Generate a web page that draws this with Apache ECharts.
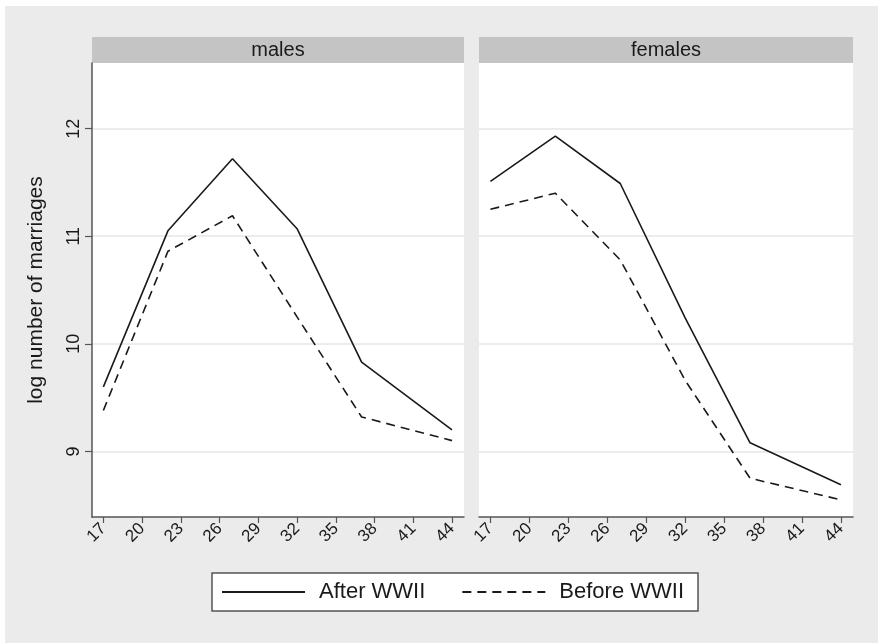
<!DOCTYPE html>
<html>
<head>
<meta charset="utf-8">
<script src="https://cdn.jsdelivr.net/npm/echarts@6/dist/echarts.min.js"></script>
<style>
  html, body { margin: 0; padding: 0; background: #fff; }
  #chart { width: 878px; height: 643px; }
</style>
</head>
<body>
<div id="chart"></div>
<script>
// age at marriage
const ages = [17, 22, 27, 32, 37, 44]
// log number of marriages
const maleAfter = [9.60, 11.05, 11.72, 11.07, 9.83, 9.20]
const maleBefore = [9.38, 10.86, 11.19, 10.25, 9.32, 9.10]
const femaleAfter = [11.51, 11.93, 11.49, 10.24, 9.08, 8.69]
const femaleBefore = [11.25, 11.40, 10.78, 9.66, 8.75, 8.55]
const xTicks = [17, 20, 23, 26, 29, 32, 35, 38, 41, 44]
const yTicks = [9, 10, 11, 12]
const panels = ['males', 'females']

const font = 'Liberation Sans, Arial, sans-serif'
const pairs = (ys) => ages.map((a, i) => [a, ys[i]])

function xAxisFor(idx) {
  return {
    type: 'value', gridIndex: idx, min: 16.12, max: 44.93,
    axisLine: { show: true, onZero: false, lineStyle: { color: '#555', width: 1.5 } },
    axisTick: { show: true, length: 6, customValues: xTicks, lineStyle: { color: '#555', width: 1.2 } },
    axisLabel: { customValues: xTicks, rotate: 45, margin: 9, fontSize: 17, color: '#1a1a1a', fontFamily: font },
    splitLine: { show: false }
  }
}
function yAxisFor(idx, showAxis) {
  return {
    type: 'value', gridIndex: idx, min: 8.39, max: 12.61,
    axisLine: { show: showAxis, lineStyle: { color: '#555', width: 1.5 } },
    axisTick: { show: showAxis, length: 7, customValues: yTicks, lineStyle: { color: '#555', width: 1.2 } },
    axisLabel: { show: showAxis, customValues: yTicks, rotate: 90, margin: 9, fontSize: 18, color: '#1a1a1a', fontFamily: font },
    splitLine: { show: true, lineStyle: { color: '#e6e6e6', width: 1.5 } }
  }
}
function lineSeries(name, idx, ys, dashed) {
  return {
    name: name, type: 'line', xAxisIndex: idx, yAxisIndex: idx,
    data: pairs(ys), symbol: 'none', showSymbol: false,
    lineStyle: { color: '#1a1a1a', width: 1.6, type: dashed ? [9, 6] : 'solid' },
    itemStyle: { color: '#1a1a1a' }
  }
}

let chart = echarts.init(document.getElementById('chart'))
let option = {
  backgroundColor: '#fff',
  animation: false,
  grid: [
    { left: 92, top: 63, width: 372, height: 454, show: true, backgroundColor: '#fff', borderWidth: 0 },
    { left: 479, top: 63, width: 374, height: 454, show: true, backgroundColor: '#fff', borderWidth: 0 }
  ],
  xAxis: [xAxisFor(0), xAxisFor(1)],
  yAxis: [
    Object.assign(yAxisFor(0, true), {
      name: 'log number of marriages', nameLocation: 'middle', nameGap: 45,
      nameTextStyle: { fontSize: 21, color: '#1a1a1a', fontFamily: font }
    }),
    yAxisFor(1, false)
  ],
  legend: {
    data: ['After WWII', 'Before WWII'],
    left: 212, top: 573,
    padding: [8, 14, 8, 9],
    backgroundColor: '#fff', borderColor: '#555', borderWidth: 1.5, borderRadius: 0,
    itemWidth: 83, itemHeight: 14, itemGap: 36,
    itemStyle: { opacity: 0 },
    textStyle: { fontSize: 22, color: '#1a1a1a', fontFamily: font, padding: [0, 0, 0, 9] }
  },
  graphic: [
    { type: 'rect', z: -10, silent: true, shape: { x: 5, y: 6, width: 873, height: 637 }, style: { fill: '#ebebeb' } },
    { type: 'rect', shape: { x: 92, y: 37, width: 372, height: 26 }, style: { fill: '#c4c4c4' } },
    { type: 'rect', shape: { x: 479, y: 37, width: 374, height: 26 }, style: { fill: '#c4c4c4' } },
    { type: 'text', x: 278, y: 50, style: { text: panels[0], fill: '#1a1a1a', font: '20px ' + font, textAlign: 'center', textVerticalAlign: 'middle' } },
    { type: 'text', x: 666, y: 50, style: { text: panels[1], fill: '#1a1a1a', font: '20px ' + font, textAlign: 'center', textVerticalAlign: 'middle' } }
  ],
  series: [
    lineSeries('After WWII', 0, maleAfter, false),
    lineSeries('Before WWII', 0, maleBefore, true),
    lineSeries('After WWII', 1, femaleAfter, false),
    lineSeries('Before WWII', 1, femaleBefore, true)
  ]
}
chart.setOption(option)
</script>
</body>
</html>
